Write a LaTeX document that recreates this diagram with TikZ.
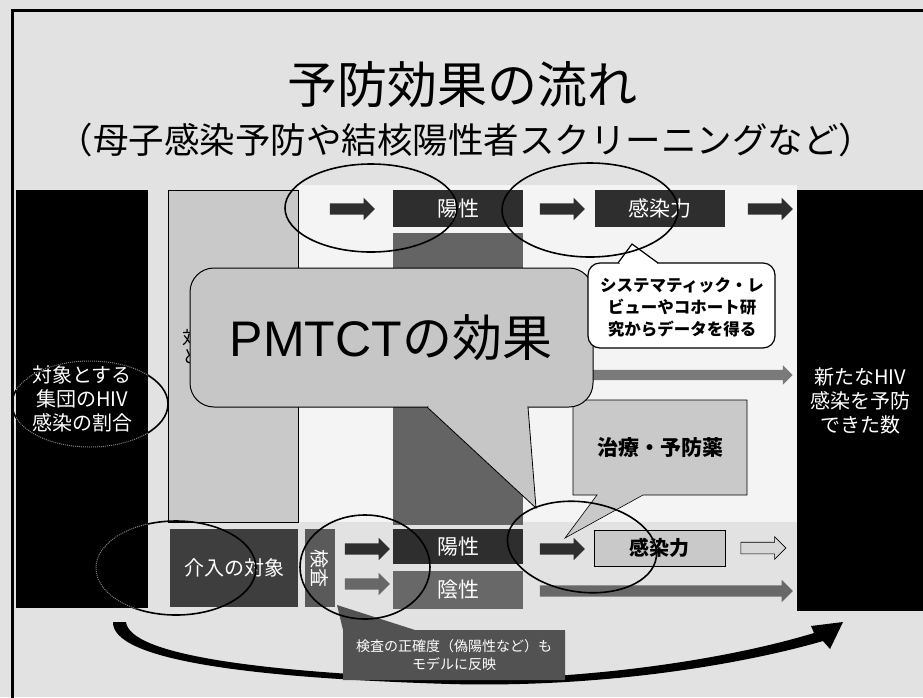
\documentclass[tikz,border=0pt]{standalone}
\usepackage{fontspec}
\setmainfont{Noto Sans CJK JP}
\newfontfamily\arialfont{Liberation Sans}
\usetikzlibrary{shapes.geometric,shapes.arrows}
\definecolor{bgc}{HTML}{E2E2E2}
\definecolor{midbg}{HTML}{F4F4F4}
\definecolor{darkbox}{HTML}{2E2E2E}
\definecolor{midgray}{HTML}{646464}
\definecolor{lightcol}{HTML}{C9C9C9}
\definecolor{pmfill}{HTML}{C6C6C6}
\definecolor{targetc}{HTML}{3E3E3E}
\definecolor{testc}{HTML}{5A5A5A}
\definecolor{negc}{HTML}{686868}
\definecolor{calloutc}{HTML}{525252}
\definecolor{longar}{HTML}{7A7A7A}
\definecolor{outlinear}{HTML}{D8D8D8}
\begin{document}
\begin{tikzpicture}[x=1pt,y=-1pt,
  lbl/.style={inner sep=0pt, outer sep=0pt, align=center},
  rect/.style={lbl, draw=none},
  barrow/.style={single arrow, single arrow head extend=5.5pt, inner xsep=0pt, inner ysep=5.5pt, outer sep=0pt, minimum height=45pt, draw=none},
  ell/.style={ellipse, draw=black, line width=1.6pt, inner sep=0pt, outer sep=0pt},
  wtxt/.style={text=white, font=\fontsize{20}{24}\selectfont},
]
\useasboundingbox (0,0) rectangle (923,697);
% background
\fill[bgc] (0,0) rectangle (923,697);
\fill[midbg] (298,185) rectangle (797,522);
% frame
\draw[line width=3pt] (12,705) -- (12,10) -- (930,10);
% title
\node[lbl, font=\fontsize{50}{60}\selectfont] (title) at (462,85) {予防効果の流れ};
\node[lbl, font=\fontsize{35.5}{42}\selectfont] (subtitle) at (466,140) {（母子感染予防や結核陽性者スクリーニングなど）};
% side columns
\node[rect, fill=black, minimum width=132pt, minimum height=418pt, wtxt] (leftcol) at (82,399) {対象とする\\集団のHIV\\感染の割合};
\node[rect, fill=black, minimum width=126pt, minimum height=421pt, wtxt] (rightcol) at (860,400.5) {新たなHIV\\感染を予防\\できた数};
% light gray column
\node[rect, fill=lightcol, draw=black, line width=0.6pt, minimum width=130pt, minimum height=332pt] (graycol) at (233,356) {};
\node[lbl, anchor=west, align=left, font=\fontsize{18}{19}\selectfont] (hidden) at (182,347) {対\\と};
% top lane
\node[rect, fill=darkbox, minimum width=130pt, minimum height=37pt, wtxt, font=\fontsize{21}{25}\selectfont] (pos1) at (458,208.5) {陽性};
\node[rect, fill=midgray, minimum width=130pt, minimum height=292pt] (midcol) at (458,379) {};
\node[rect, fill=darkbox, minimum width=130pt, minimum height=37pt, wtxt, font=\fontsize{21}{25}\selectfont] (inf1) at (660,208.5) {感染力};
\node[barrow, fill=darkbox] (a1) at (349.5,209) {};
\node[barrow, fill=darkbox] (a2) at (559.5,209) {};
\node[barrow, fill=darkbox] (a3) at (767.5,209) {};
% middle long arrow
\node[barrow, fill=longar, minimum height=260pt, inner ysep=5pt, single arrow head extend=4.5pt] (am) at (660,375) {};
% lower lane
\node[rect, fill=targetc, minimum width=128pt, minimum height=78pt, wtxt] (target) at (234,568) {介入の対象};
\node[rect, fill=testc, minimum width=30pt, minimum height=78pt] (test) at (320,568) {};
\node[lbl, rotate=-90, wtxt, font=\fontsize{19}{22}\selectfont] (testlbl) at (test.center) {検査};
\node[barrow, fill=darkbox] (b1) at (364.5,549) {};
\node[barrow, fill=negc] (b2) at (364.5,584) {};
\node[rect, fill=darkbox, minimum width=130pt, minimum height=35pt, wtxt, font=\fontsize{21}{25}\selectfont] (pos2) at (458,546.5) {陽性};
\node[rect, fill=negc, minimum width=130pt, minimum height=38pt, wtxt, font=\fontsize{21}{25}\selectfont] (neg) at (458,590) {陰性};
\node[barrow, fill=darkbox] (b3) at (559.5,549) {};
\node[rect, fill=lightcol, draw=black, line width=0.5pt, minimum width=131pt, minimum height=36pt, font=\bfseries\fontsize{20}{24}\selectfont] (inf2) at (659.5,548) {感染力};
\node[barrow, fill=outlinear, draw=black, line width=0.6pt] (b4) at (760.5,548) {};
\node[barrow, fill=negc, minimum height=253pt] (b5) at (663.5,591) {};
% curved bottom arrow
\coordinate (cstart) at (119,622);
\coordinate (cend) at (843,622);
\fill[black] (113,622) .. controls (112,660) and (250,678) .. (450,684)
  .. controls (600,688) and (740,665) .. (823,641)
  -- (830,649) -- (cend) -- (811,626) -- (814,633)
  .. controls (735,657) and (600,680) .. (450,679)
  .. controls (260,672) and (130,655) .. (126,622) -- cycle;
% bottom callout
\fill[calloutc] (343,630) -- (337,605) -- (415,630) -- (565,630) -- (565,680) -- (343,680) -- cycle;
\node[lbl, text=white, font=\fontsize{14}{18}\selectfont] (acc) at (454,655) {検査の正確度（偽陽性など）も\\モデルに反映};
% treatment callout
\filldraw[fill=lightcol, draw=black, line width=0.6pt] (573,400) -- (747,400) -- (747,495) -- (643,495) -- (565,538) -- (597,495) -- (573,495) -- cycle;
\node[lbl, font=\bfseries\fontsize{21}{25}\selectfont] (drug) at (660,448) {治療・予防薬};
% PMTCT callout
\filldraw[fill=pmfill, draw=black, line width=1pt, rounded corners=24pt] (190,268) rectangle (593,407);
\fill[pmfill] (427,407) -- (536,508) -- (528,407) -- cycle;
\fill[pmfill] (428.5,404.5) rectangle (526.5,409);
\draw[line width=0.8pt] (427,407) -- (536,508) -- (528,407);
\node[lbl, font=\fontsize{50}{60}\selectfont] (pmtct) at (391,338) {{\arialfont PMTCT}の効果};
% systematic review callout
\filldraw[fill=white, draw=black, line width=1.2pt, rounded corners=12pt] (588,263) rectangle (775,348);
\fill[white] (618,263) -- (632,244) -- (658,263) -- cycle;
\fill[white] (619.5,261) rectangle (656.5,265);
\draw[line width=1.2pt] (618,263) -- (632,244) -- (658,263);
\node[lbl, font=\bfseries\fontsize{16.5}{22}\selectfont] (sr) at (682,307) {システマティック・レ\\ビューやコホート研\\究からデータを得る};
% ellipses
\node[ell, minimum width=172pt, minimum height=88pt] (eTop1) at (371,208) {};
\node[ell, minimum width=176pt, minimum height=94pt] (eTop2) at (590,210) {};
\node[ell, minimum width=156pt, minimum height=86pt] (eLeft) at (90,404) {};
\node[ell, minimum width=160pt, minimum height=94pt] (eTarget) at (176,568) {};
\node[ell, minimum width=130pt, minimum height=104pt] (eTest) at (365,567) {};
\node[ell, minimum width=150pt, minimum height=90pt, rotate=-8] (eInf) at (582,547) {};
\begin{scope}
\clip (16,190) rectangle (148,608);
\draw[gray, densely dotted, line width=1pt] (90,404) ellipse [x radius=78pt, y radius=43pt];
\draw[gray, densely dotted, line width=1pt] (176,568) ellipse [x radius=80pt, y radius=47pt];
\end{scope}
\end{tikzpicture}
\end{document}
